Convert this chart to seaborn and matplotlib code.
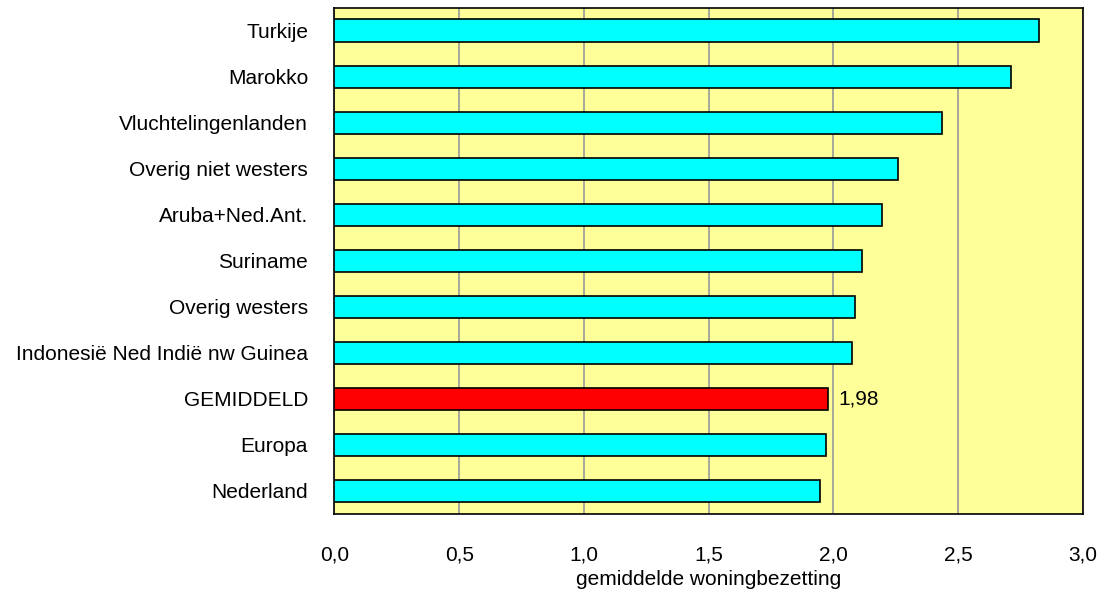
import numpy as np
import pandas as pd
import seaborn as sns
import matplotlib.pyplot as plt
from matplotlib.ticker import FuncFormatter

herkomst = ["Turkije", "Marokko", "Vluchtelingenlanden", "Overig niet westers",
            "Aruba+Ned.Ant.", "Suriname", "Overig westers",
            "Indonesië Ned Indië nw Guinea", "GEMIDDELD", "Europa", "Nederland"]
bezetting = [2.825, 2.71, 2.435, 2.26, 2.195, 2.115, 2.085, 2.075, 1.98, 1.97, 1.945]
kleuren = {h: ("#ff0000" if h == "GEMIDDELD" else "#00ffff") for h in herkomst}

df = pd.DataFrame({"herkomst": herkomst, "bezetting": bezetting})

sns.set_style("white")
plt.rcParams["font.family"] = ["Liberation Sans", "DejaVu Sans"]
plt.rcParams["text.color"] = "black"
plt.rcParams["xtick.color"] = "black"
plt.rcParams["ytick.color"] = "black"
plt.rcParams["axes.labelcolor"] = "black"

fig = plt.figure(figsize=(11.05, 5.92), dpi=100)
ax = fig.add_axes([0.3027, 0.1318, 0.6773, 0.8555])
ax.set_facecolor("#ffff99")

sns.barplot(data=df, y="herkomst", x="bezetting", hue="herkomst", palette=kleuren,
            orient="h", width=0.48, edgecolor="black", linewidth=1.2,
            legend=False, saturation=1, ax=ax, zorder=3)

ax.set_xlim(0, 3.0)
ax.set_xticks(np.arange(0, 3.01, 0.5))
ax.xaxis.set_major_formatter(FuncFormatter(lambda v, p: f"{v:.1f}".replace(".", ",")))
ax.grid(axis="x", color="#999999", linewidth=1.2, zorder=0)
ax.set_axisbelow(True)
ax.tick_params(axis="x", length=0, pad=23, labelsize=15)
ax.tick_params(axis="y", length=0, pad=19, labelsize=15)
ax.set_ylabel("")
ax.set_xlabel("gemiddelde woningbezetting", fontsize=15, labelpad=4)
for s in ax.spines.values():
    s.set_visible(True)
    s.set_color("black")
    s.set_linewidth(1.2)

i = herkomst.index("GEMIDDELD")
ax.text(bezetting[i] + 0.04, i, f"{bezetting[i]:.2f}".replace(".", ","),
        va="center", ha="left", fontsize=15)

fig.savefig("out.png", dpi=100)
